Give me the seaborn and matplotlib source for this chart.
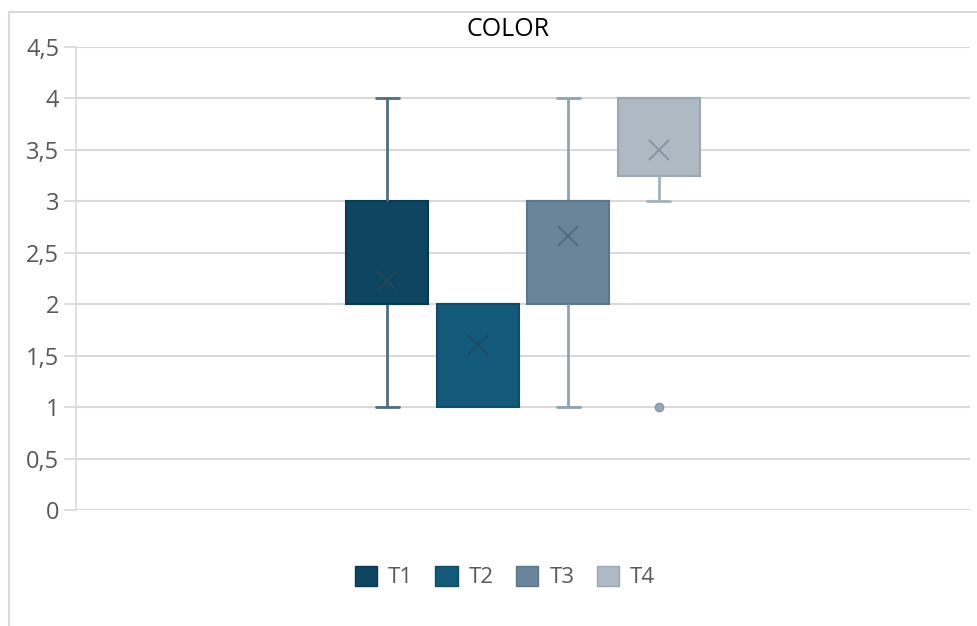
import matplotlib
matplotlib.use("Agg")
import matplotlib.pyplot as plt
import matplotlib.patches as mpatches
import pandas as pd
import seaborn as sns

# datos por tratamiento (puntuaciones de COLOR)
series = ["T1", "T2", "T3", "T4"]
t1 = [1, 1, 2, 2, 2, 2, 3, 3, 4]
t2 = [1, 1, 2, 2, 2]
t3 = [1, 2, 2, 3, 3, 3, 3, 3, 4]
t4 = [1, 3, 3, 4, 4, 4, 4, 4, 4, 4]
yticks = [0, 0.5, 1, 1.5, 2, 2.5, 3, 3.5, 4, 4.5]

fills = ["#0E4560", "#135A7A", "#6A8599", "#AEB9C4"]
edges = ["#0A3A52", "#0E4C68", "#5C778C", "#9AA8B5"]
whisk = ["#4F6E82", "#4F6E82", "#8EA2B2", "#A4B1BD"]
marks = ["#23465B", "#1F4A60", "#4F6A7E", "#8595A5"]

rows = []
for name, vals in zip(series, [t1, t2, t3, t4]):
    for v in vals:
        rows.append({"grupo": "COLOR", "serie": name, "valor": v})
df = pd.DataFrame(rows)

sns.set_theme(style="white")
plt.rcParams["font.family"] = ["Open Sans", "DejaVu Sans"]

fig = plt.figure(figsize=(9.77, 6.26), dpi=100)
ax = fig.add_axes([76 / 977, 1 - 510 / 626, (970 - 76) / 977, (510 - 47) / 626])

sns.boxplot(data=df, x="grupo", y="valor", hue="serie", hue_order=series,
            palette=fills, saturation=1, width=0.405, gap=0.09, whis=1.5,
            showmeans=True, capwidths=0.026,
            meanprops={"marker": "x", "markersize": 14, "markeredgewidth": 1.4},
            flierprops={"marker": "o", "markersize": 6}, linewidth=1.5,
            legend=False, ax=ax)

# colores de bordes, bigotes y marcas por serie
for i, patch in enumerate(ax.patches[:4]):
    patch.set_edgecolor(edges[i])
lines = ax.lines
per = len(lines) // 4
for i in range(4):
    grp = lines[i * per:(i + 1) * per]
    for ln in grp:
        ln.set_color(whisk[i])
        ln.set_linewidth(2)
    for ln in grp:
        if ln.get_marker() == "x":
            ln.set_markeredgecolor(marks[i])
            ln.set_linewidth(0)
        elif ln.get_marker() == "o":
            ln.set_markerfacecolor("#9AA5B8")
            ln.set_markeredgecolor("#8A96AA")
            ln.set_linewidth(0)
    # bigotes de longitud cero (sin bigote visible)
    for w, c in [(0, 2), (1, 3)]:
        yd = grp[w].get_ydata()
        if yd[0] == yd[1]:
            grp[w].set_visible(False)
            grp[c].set_visible(False)
    # mediana con el color del borde
    grp[4].set_color(edges[i])
    grp[4].set_linewidth(1.5)

ax.set_xlim(-0.5, 0.5)
ax.set_ylim(0, 4.5)
ax.set_yticks(yticks)
ax.set_yticklabels([f"{t:g}".replace(".", ",") for t in yticks],
                   fontsize=17, color="#595959")
ax.set_xticks([])
ax.set_xlabel("")
ax.set_ylabel("")
ax.yaxis.grid(True, color="#D9D9D9", linewidth=1.5)
ax.set_axisbelow(True)
ax.tick_params(axis="y", length=9, width=1.2, color="#D9D9D9", left=True, pad=3)
for s in ["top", "right", "bottom"]:
    ax.spines[s].set_visible(False)
ax.spines["left"].set_color("#D9D9D9")
ax.spines["left"].set_linewidth(1.2)

fig.text(508 / 977, 1 - 29 / 626, "COLOR", ha="center", va="center",
         fontsize=18, color="#000000")

handles = [mpatches.Patch(facecolor=fills[i], edgecolor=edges[i], label=series[i])
           for i in range(4)]
fig.legend(handles=handles, loc="center", bbox_to_anchor=(505 / 977, 1 - 577 / 626),
           ncol=4, frameon=False, fontsize=16, handlelength=1.0, handleheight=1.0,
           handletextpad=0.5, columnspacing=1.0, labelcolor="#595959")

# marco exterior del grafico
fig.add_artist(plt.Line2D([9 / 977, 9 / 977], [0, 1 - 12 / 626],
                          transform=fig.transFigure, color="#D9D9D9", linewidth=1.5))
fig.add_artist(plt.Line2D([9 / 977, 1], [1 - 12 / 626, 1 - 12 / 626],
                          transform=fig.transFigure, color="#D9D9D9", linewidth=1.5))

fig.savefig("out.png", dpi=100, facecolor="white")
